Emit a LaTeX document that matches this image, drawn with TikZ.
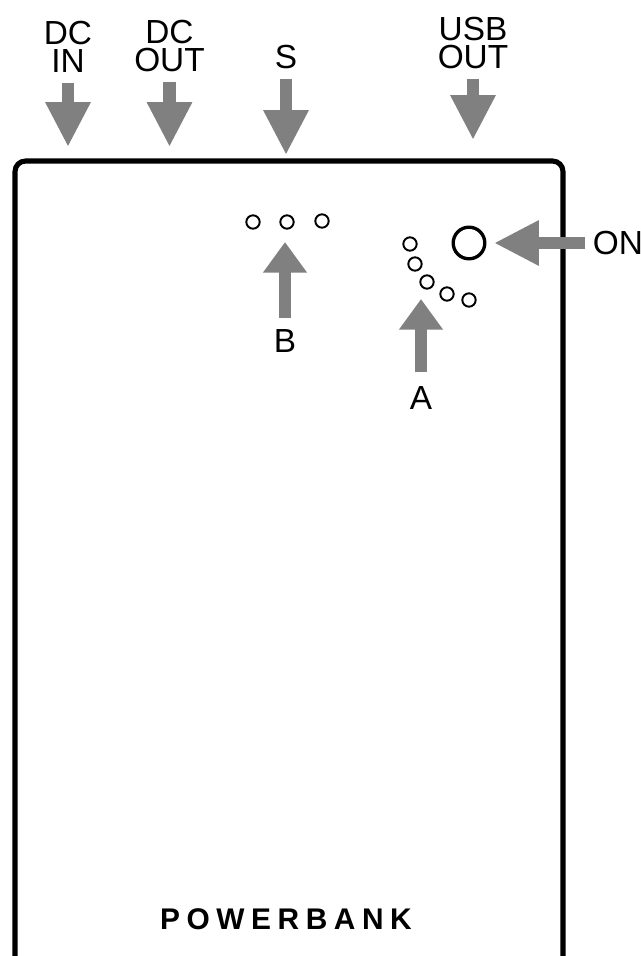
\documentclass[tikz,border=0pt]{standalone}
\usepackage{fontspec}
\setmainfont{Liberation Sans}
\newfontfamily\brandfont[LetterSpace=22]{Liberation Sans Bold}
\usetikzlibrary{arrows.meta}
\definecolor{arrowgray}{HTML}{808080}
\tikzset{
  portlabel/.style={inner sep=0pt,outer sep=5.6pt,align=center,font=\fontsize{19}{16}\selectfont},
  longarrow/.style={arrowgray,line width=7.1pt,-{Triangle[length=25.5pt,width=24pt]}},
  shortarrow/.style={arrowgray,line width=7.1pt,-{Triangle[length=17.5pt,width=24pt]}},
  led/.style={circle,draw,line width=1.1pt,inner sep=0pt,minimum size=7.6pt},
}
\begin{document}
\begin{tikzpicture}[x=0.02cm,y=-0.02cm]
            \useasboundingbox (0,0) rectangle (641,956);
            % housing, open at the bottom
            \draw[line width=2.9pt,rounded corners=6pt] (15,956)--(15,161)--(563,161)--(563,956);
            \node[font=\brandfont\fontsize{17}{17}\selectfont,inner sep=0pt] (brand) at (286,919){POWERBANK};
            % lamps
            \node[led] (b1) at (253,222){};
            \node[led] (b2) at (287,222){};
            \node[led] (b3) at (322,221){};
            \node[led] (a1) at (410,244){};
            \node[led] (a2) at (415,264){};
            \node[led] (a3) at (427,282){};
            \node[led] (a4) at (447,294){};
            \node[led] (a5) at (469,300){};
            \node[circle,draw,line width=1.9pt,inner sep=0pt,minimum size=18pt] (onbutton) at (469,243){};
            % labels
            \node[portlabel] (dcin) at (68,47){DC\\IN};
            \node[portlabel] (dcout) at (169.5,46){DC\\OUT};
            \node[portlabel] (s) at (286,57){S};
            \node[portlabel] (usbout) at (473,43){USB\\OUT};
            \node[portlabel,outer sep=4.5pt] (on) at (618,243){ON};
            \node[portlabel,outer sep=6.8pt] (b) at (285,341){B};
            \node[portlabel,outer sep=8pt] (a) at (421,398){A};
            % arrow tips
            \coordinate (dcintip) at (68,147);
            \coordinate (dcouttip) at (169.5,147);
            \coordinate (stip) at (286,155);
            \coordinate (usbouttip) at (473,140);
            \coordinate (ontip) at (494,243);
            \coordinate (btip) at (285,242);
            \coordinate (atip) at (421,299);
            \draw[longarrow] (dcin)--(dcintip);
            \draw[longarrow] (dcout)--(dcouttip);
            \draw[longarrow] (s)--(stip);
            \draw[longarrow] (usbout)--(usbouttip);
            \draw[longarrow] (on)--(ontip);
            \draw[shortarrow] (b)--(btip);
            \draw[shortarrow] (a)--(atip);
\end{tikzpicture}
\end{document}
